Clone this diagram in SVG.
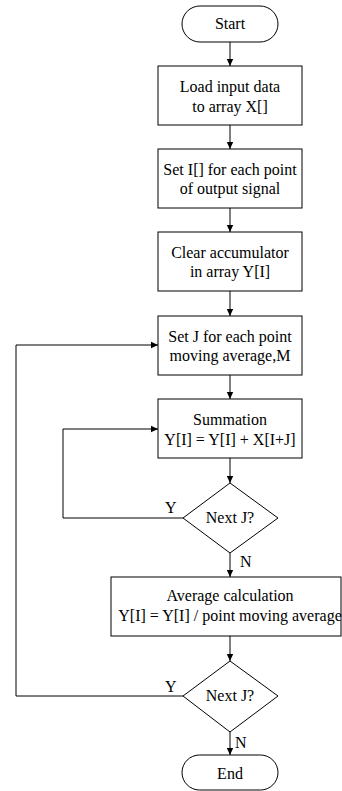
<svg xmlns="http://www.w3.org/2000/svg" width="342" height="791" viewBox="0 0 342 791">
<defs>
<marker id="ah" markerWidth="8" markerHeight="8" refX="7" refY="4" orient="auto" markerUnits="userSpaceOnUse">
<path d="M0,0.8 L7,4 L0,7.2 Z" fill="#000"/>
</marker>
</defs>
<style>
.s{fill:#fff;stroke:#000;stroke-width:1}
.t{font-family:"Liberation Serif","Times New Roman",serif;font-size:16px;fill:#000;text-anchor:middle}
.l{font-family:"Liberation Serif","Times New Roman",serif;font-size:16px;fill:#000}
.c{fill:none;stroke:#000;stroke-width:1}
</style>
<rect width="342" height="791" fill="#fff"/>
<g id="connectors">
<path class="c" d="M230,42 V66" marker-end="url(#ah)"/>
<path class="c" d="M230,125 V149" marker-end="url(#ah)"/>
<path class="c" d="M230,208 V232" marker-end="url(#ah)"/>
<path class="c" d="M230,291 V316" marker-end="url(#ah)"/>
<path class="c" d="M230,375 V399" marker-end="url(#ah)"/>
<path class="c" d="M230,458 V483" marker-end="url(#ah)"/>
<path class="c" d="M230,553 V577" marker-end="url(#ah)"/>
<path class="c" d="M230,636 V661" marker-end="url(#ah)"/>
<path class="c" d="M230,732 V755" marker-end="url(#ah)"/>
<path class="c" d="M183,518 H63 V429 H158" marker-end="url(#ah)"/>
<path class="c" d="M183,696 H16 V345 H158" marker-end="url(#ah)"/>
<text class="l" x="165" y="513">Y</text>
<text class="l" x="240" y="567">N</text>
<text class="l" x="165" y="692">Y</text>
<text class="l" x="235" y="748">N</text>
</g>
<g id="start">
<rect class="s" x="182" y="6" width="96" height="36" rx="18" ry="18"/>
<text class="t" x="230" y="29">Start</text>
</g>
<g id="load">
<rect class="s" x="158" y="66" width="144" height="59"/>
<text class="t" x="230" y="92">Load input data</text>
<text class="t" x="230" y="112">to array X[]</text>
</g>
<g id="setI">
<rect class="s" x="158" y="149" width="144" height="59"/>
<text class="t" x="230" y="175">Set I[] for each point</text>
<text class="t" x="230" y="194">of output signal</text>
</g>
<g id="clear">
<rect class="s" x="158" y="232" width="144" height="59"/>
<text class="t" x="230" y="258">Clear accumulator</text>
<text class="t" x="230" y="277">in array Y[I]</text>
</g>
<g id="setJ">
<rect class="s" x="158" y="316" width="144" height="59"/>
<text class="t" x="230" y="342">Set J for each point</text>
<text class="t" x="230" y="361">moving average,M</text>
</g>
<g id="sum">
<rect class="s" x="158" y="399" width="144" height="59"/>
<text class="t" x="230" y="425">Summation</text>
<text class="t" x="230" y="445">Y[I] = Y[I] + X[I+J]</text>
</g>
<g id="dec1">
<polygon class="s" points="230,483 278,518 230,553 183,518"/>
<text class="t" x="230" y="523">Next J?</text>
</g>
<g id="avg">
<rect class="s" x="111" y="577" width="230" height="59"/>
<text class="t" x="230" y="601">Average calculation</text>
<text class="t" x="230" y="621">Y[I] = Y[I] / point moving average</text>
</g>
<g id="dec2">
<polygon class="s" points="230,661 278,696 230,732 183,696"/>
<text class="t" x="230" y="701">Next J?</text>
</g>
<g id="end">
<rect class="s" x="182" y="755" width="96" height="35" rx="17.5" ry="17.5"/>
<text class="t" x="230" y="779">End</text>
</g>
</svg>
